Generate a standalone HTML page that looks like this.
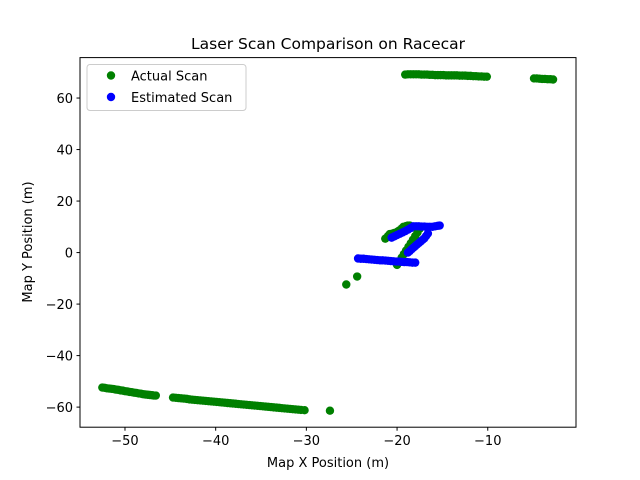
<!DOCTYPE html>
<html><head><meta charset="utf-8"><style>
body{margin:0;background:#fff;}
svg{display:block;font-family:"DejaVu Sans","Liberation Sans",sans-serif;}
</style></head><body>
<svg id="chart" width="640" height="480" viewBox="0 0 640 480">
<rect width="640" height="480" fill="#fff"/>
<text x="328" y="49" text-anchor="middle" font-size="15.5">Laser Scan Comparison on Racecar</text>
<g id="marks"></g>
<rect x="80" y="57.6" width="496" height="369.6" fill="none" stroke="#000" stroke-width="1"/>
<g id="xticks"></g>
<g id="yticks"></g>
<text x="328" y="467" text-anchor="middle" font-size="13">Map X Position (m)</text>
<text transform="translate(32,242) rotate(-90)" text-anchor="middle" font-size="13">Map Y Position (m)</text>
<g>
<rect x="87" y="64.5" width="159" height="46" rx="3" fill="#fff" fill-opacity="0.8" stroke="#ccc"/>
<circle cx="111" cy="75.5" r="4.2" fill="green"/>
<text x="131" y="80.5" font-size="13">Actual Scan</text>
<circle cx="111" cy="97" r="4.2" fill="blue"/>
<text x="131" y="102" font-size="13">Estimated Scan</text>
</g>
</svg>
<script>
const xTickValues=[-50,-40,-30,-20,-10];
const yTickValues=[-60,-40,-20,0,20,40,60];
const actualX=[-52.5,-52.25,-52,-51.75,-51.5,-51.25,-51,-50.75,-50.5,-50.25,-50,-49.75,-49.5,-49.25,-49,-48.75,-48.5,-48.25,-48,-47.75,-47.5,-47.25,-47,-46.8,-46.6,
-44.7,-44.4,-44.1,-43.8,-43.5,-43.2,-42.9,-42.6,-42.3,-42,-41.7,-41.4,-41.1,-40.8,-40.5,-40.2,-39.9,-39.6,-39.3,-39,-38.7,-38.4,-38.1,-37.8,-37.5,-37.2,-36.9,-36.6,-36.3,-36,-35.7,-35.4,-35.1,-34.8,-34.5,-34.2,-33.9,-33.6,-33.3,-33,-32.7,-32.4,-32.1,-31.8,-31.5,-31.2,-30.9,-30.6,-30.2,
-27.4,
-19.1,-18.8,-18.5,-18.2,-17.9,-17.6,-17.3,-17,-16.7,-16.4,-16.1,-15.8,-15.5,-15.2,-14.9,-14.6,-14.3,-14,-13.7,-13.4,-13.1,-12.8,-12.5,-12.2,-11.9,-11.6,-11.3,-11,-10.7,-10.4,-10.1,
-4.9,-4.6,-4.3,-4,-3.7,-3.4,-3.1,-2.8,
-25.6,-24.4,
-21.3,-21,-20.8,-20.5,-20.3,-20,-19.8,-19.5,-19.3,-19,-18.8,-18.6,
-20,-19.75,-19.5,-19.25,-19,-18.75,-18.5,-18.25,-18,-17.75,-17.5];
const actualY=[-52.4,-52.5,-52.7,-52.8,-52.9,-53,-53.2,-53.3,-53.5,-53.6,-53.8,-53.9,-54.1,-54.2,-54.4,-54.5,-54.7,-54.8,-55,-55.1,-55.2,-55.3,-55.4,-55.5,-55.5,
-56.3,-56.4,-56.5,-56.6,-56.7,-56.8,-57,-57.1,-57.2,-57.3,-57.4,-57.5,-57.6,-57.7,-57.8,-57.9,-58,-58.1,-58.2,-58.3,-58.4,-58.5,-58.6,-58.7,-58.8,-58.9,-59,-59.1,-59.2,-59.3,-59.4,-59.5,-59.6,-59.7,-59.8,-59.9,-60,-60.1,-60.2,-60.3,-60.4,-60.5,-60.6,-60.7,-60.8,-60.9,-61,-61.1,-61.2,
-61.4,
69.1,69.2,69.2,69.2,69.2,69.2,69.1,69.1,69.1,69,69,68.9,68.9,68.9,68.9,68.8,68.8,68.8,68.8,68.8,68.7,68.7,68.7,68.6,68.6,68.5,68.5,68.4,68.4,68.3,68.3,
67.6,67.6,67.5,67.4,67.4,67.3,67.3,67.2,
-12.4,-9.3,
5.4,6.4,7.2,7.4,7.6,8,8.5,9.3,10,10.3,10.5,10.5,
-4.8,-3.4,-2,-0.6,0.8,2.2,3.6,5,6.4,7.8,9.3];
const estX=[-24.3,-24,-23.7,-23.4,-23.1,-22.8,-22.5,-22.2,-21.9,-21.6,-21.3,-21,-20.7,-20.4,-20.1,-19.8,-19.5,-19.2,-18.9,-18.6,-18.3,-18,
-20.6,-20.3,-20,-19.7,-19.4,-19.1,-18.8,-18.5,-18.2,-17.9,-17.6,-17.3,-17,-16.7,-16.4,-16.1,-15.8,-15.5,-15.3,
-18.8,-18.6,-18.4,-18.2,-18,-17.8,-17.6,-17.4,-17.2,-17,-16.8,-16.6];
const estY=[-2.3,-2.4,-2.4,-2.5,-2.6,-2.7,-2.8,-2.9,-3,-3,-3.1,-3.2,-3.3,-3.4,-3.5,-3.5,-3.6,-3.7,-3.7,-3.8,-3.9,-3.9,
5.8,6.3,6.8,7.3,7.8,8.3,8.9,9.5,10.2,10.2,10.2,10.1,10.1,10,10,10,10.2,10.4,10.5,
0,0.6,1.3,1.9,2.5,3.1,3.7,4.3,4.9,5.5,6.4,7.4];
const X0=-54.96,X1=-0.27,Y0=-67.8,Y1=75.7;
function sx(v){return 80+(v-X0)/(X1-X0)*496;}
function sy(v){return 427.2-(v-Y0)/(Y1-Y0)*369.6;}
const NS='http://www.w3.org/2000/svg';
const marks=document.getElementById('marks');
function dot(x,y,c,name){const e=document.createElementNS(NS,'circle');
e.setAttribute('cx',sx(x));e.setAttribute('cy',sy(y));e.setAttribute('r',4.2);e.setAttribute('fill',c);


marks.appendChild(e);}
actualX.forEach((x,i)=>dot(x,actualY[i],'green','actual-point'));
estX.forEach((x,i)=>dot(x,estY[i],'blue','estimated-point'));
const xt=document.getElementById('xticks');
xTickValues.forEach(v=>{const l=document.createElementNS(NS,'line');
l.setAttribute('x1',sx(v));l.setAttribute('x2',sx(v));l.setAttribute('y1',427.2);l.setAttribute('y2',430.7);l.setAttribute('stroke','#000');


xt.appendChild(l);
const t=document.createElementNS(NS,'text');t.setAttribute('x',sx(v));t.setAttribute('y',445);t.setAttribute('text-anchor','middle');t.setAttribute('font-size','13');t.textContent='\u2212'+Math.abs(v);


xt.appendChild(t);});
const yt=document.getElementById('yticks');
yTickValues.forEach(v=>{const l=document.createElementNS(NS,'line');
l.setAttribute('x1',76.5);l.setAttribute('x2',80);l.setAttribute('y1',sy(v));l.setAttribute('y2',sy(v));l.setAttribute('stroke','#000');


yt.appendChild(l);
const t=document.createElementNS(NS,'text');t.setAttribute('x',73);t.setAttribute('y',sy(v)+5);t.setAttribute('text-anchor','end');t.setAttribute('font-size','13');t.textContent=(v<0?'\u2212':'')+Math.abs(v);


yt.appendChild(t);});
</script>
</body></html>
